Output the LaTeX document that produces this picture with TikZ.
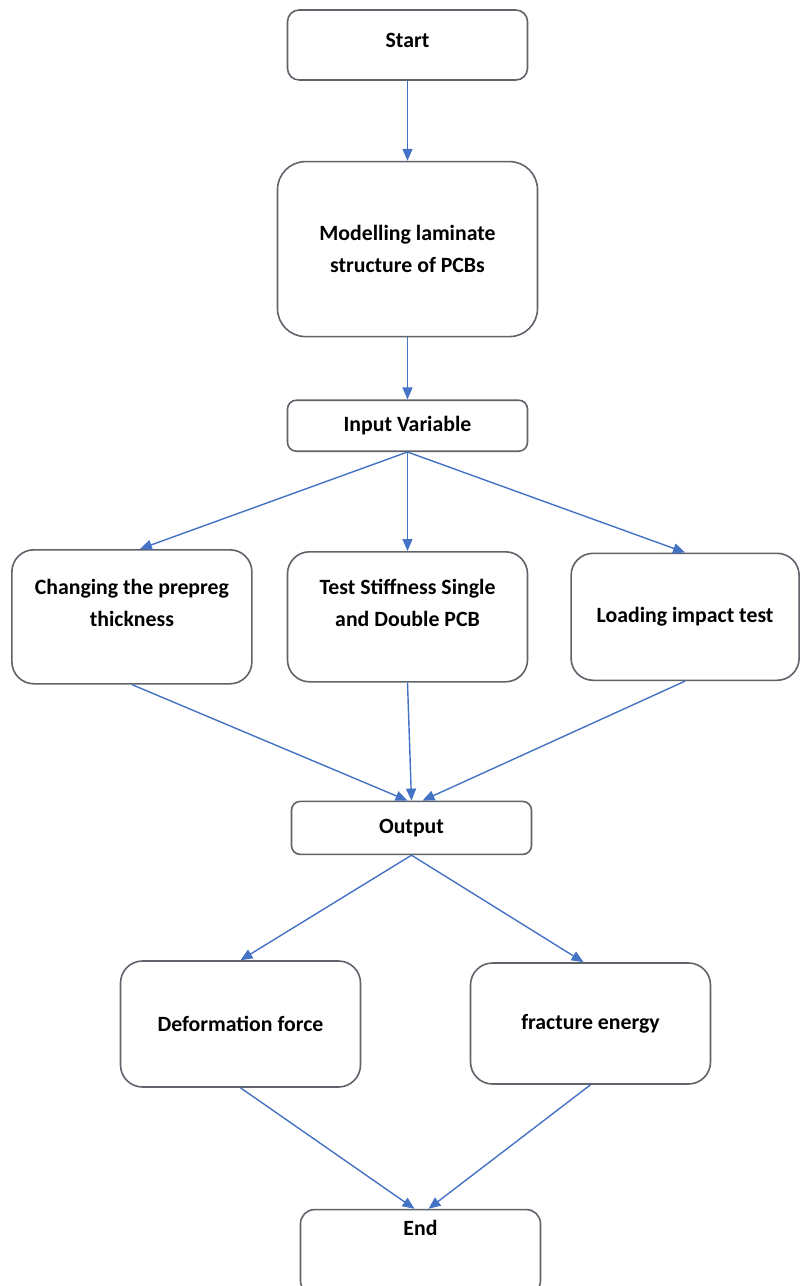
\documentclass[tikz,border=0pt]{standalone}
\usepackage{fontspec}
\setmainfont{Carlito}
\usepackage{tikz}
\usetikzlibrary{arrows.meta, positioning}
\definecolor{flowblue}{RGB}{68,114,196}
\definecolor{flowgray}{RGB}{95,99,106}
\tikzset{every node/.append style={align=center}}
\tikzset{
  stepbox/.style={rectangle, draw=flowgray, fill=white, line width=0.4mm, rounded corners=5.5mm,
    minimum width=60mm, minimum height=32.5mm, inner sep=1mm,
    font=\fontsize{15.5}{23}\selectfont\bfseries},
  flat/.style={stepbox, minimum height=12.75mm, rounded corners=2.2mm},
  arrow/.style={-{Triangle[length=3mm, width=2.5mm]}, line width=0.35mm, flowblue}
}
\begin{document}
\begin{tikzpicture}
  \useasboundingbox (-101.875mm,11.25mm) rectangle (98.125mm,-310.25mm);
  \node[flat, minimum height=17.5mm, rounded corners=2.9mm, text depth=2.5mm] (start) at (0,0) {Start};
  \node[stepbox, minimum width=65mm, minimum height=43.75mm, rounded corners=7mm, below=20mm of start] (model) {Modelling laminate\\structure of PCBs};
  \node[flat, below=15.5mm of model] (input) {Input Variable};
  \node[stepbox, text depth=7mm, below=24.75mm of input] (stiff) {Test Stiffness Single\\and Double PCB};
  \node[stepbox, minimum height=33.5mm, text depth=7mm, left=8.5mm of stiff] (prepreg) {Changing the prepreg\\thickness};
  \node[stepbox, minimum width=57mm, minimum height=31.75mm, right=10.5mm of stiff] (impact) {Loading impact test};
  \node[flat, minimum height=13.25mm, below=29.5mm of stiff, xshift=1mm] (output) {Output};
  \node[stepbox, minimum height=31.5mm, below=26.25mm of output, xshift=-42.75mm] (deform) {Deformation force};
  \node[stepbox, minimum height=30.25mm, below=26.75mm of output, xshift=44.75mm] (fracture) {fracture energy};
  \node[stepbox, minimum height=21.25mm, rounded corners=3.5mm, text depth=12.3mm, below=30.25mm of deform, xshift=45mm] (end) {End};
  \draw[arrow] (start.south) -- (model.north);
  \draw[arrow] (model.south) -- (input.north);
  \draw[arrow] (input.south) -- ([xshift=2mm]prepreg.north);
  \draw[arrow] (input.south) -- (stiff.north);
  \draw[arrow] (input.south) -- (impact.north);
  \draw[arrow] (prepreg.south) -- ([xshift=-1mm]output.north);
  \draw[arrow] (stiff.south) -- (output.north);
  \draw[arrow] (impact.south) -- ([xshift=2.75mm]output.north);
  \draw[arrow] (output.south) -- (deform.north);
  \draw[arrow] (output.south) -- ([xshift=-1.75mm]fracture.north);
  \draw[arrow] (deform.south) -- ([xshift=-1.5mm]end.north);
  \draw[arrow] (fracture.south) -- ([xshift=2mm]end.north);
\end{tikzpicture}
\end{document}
